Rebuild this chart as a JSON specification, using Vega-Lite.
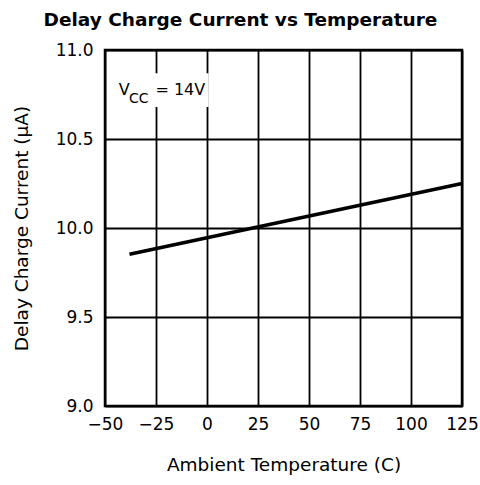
{
  "$schema": "https://vega.github.io/schema/vega-lite/v6.json",
  "autosize": "none",
  "width": 357,
  "height": 356,
  "padding": {"left": 105, "top": 50, "right": 18, "bottom": 79},
  "background": "white",
  "config": {
    "view": {"stroke": "black", "strokeWidth": 2.5},
    "font": "DejaVu Sans",
    "axis": {"labelFont": "DejaVu Sans", "titleFont": "DejaVu Sans", "labelColor": "black", "titleColor": "black", "titleFontWeight": "normal", "gridColor": "black", "gridOpacity": 1, "gridWidth": 1.8, "domain": false, "ticks": false, "labelOverlap": false, "labelFlush": false}
  },
  "title": {"text": "Delay Charge Current vs Temperature", "font": "DejaVu Sans", "fontSize": 18.5, "fontWeight": "bold", "color": "black", "anchor": "middle", "dx": -43, "offset": 12},
  "datasets": {
    "line": [{"t": -38, "i": 9.853}, {"t": 125, "i": 10.25}],
    "box": [{"t1": -46, "t2": 0.8, "i1": 10.68, "i2": 10.87}],
    "ann": [
      {"t": -43.2, "i": 10.747, "txt": "V", "part": "main"},
      {"t": -38.2, "i": 10.702, "txt": "CC", "part": "sub"},
      {"t": -25.3, "i": 10.747, "txt": "= 14V", "part": "main"}
    ]
  },
  "layer": [
    {
      "data": {"name": "line"},
      "mark": {"type": "line", "color": "black", "strokeWidth": 3.5},
      "encoding": {
        "x": {"field": "t", "type": "quantitative", "scale": {"domain": [-50, 125], "nice": false, "zero": false},
              "axis": {"values": [-50, -25, 0, 25, 50, 75, 100, 125], "title": "Ambient Temperature (C)", "labelFontSize": 17, "labelPadding": 10, "titleFontSize": 18.5, "titlePadding": 23}},
        "y": {"field": "i", "type": "quantitative", "scale": {"domain": [9, 11], "nice": false, "zero": false},
              "axis": {"values": [9, 9.5, 10, 10.5, 11], "format": ".1f", "title": "Delay Charge Current (μA)", "labelFontSize": 17, "labelPadding": 12, "titleFontSize": 18.5, "titlePadding": 24}}
      }
    },
    {
      "data": {"name": "box"},
      "mark": {"type": "rect", "fill": "white"},
      "encoding": {
        "x": {"field": "t1", "type": "quantitative"},
        "x2": {"field": "t2"},
        "y": {"field": "i1", "type": "quantitative"},
        "y2": {"field": "i2"}
      }
    },
    {
      "data": {"name": "ann"},
      "transform": [{"filter": "datum.part == 'main'"}],
      "mark": {"type": "text", "align": "left", "baseline": "alphabetic", "fontSize": 16, "font": "DejaVu Sans", "color": "black"},
      "encoding": {
        "x": {"field": "t", "type": "quantitative"},
        "y": {"field": "i", "type": "quantitative"},
        "text": {"field": "txt"}
      }
    },
    {
      "data": {"name": "ann"},
      "transform": [{"filter": "datum.part == 'sub'"}],
      "mark": {"type": "text", "align": "left", "baseline": "alphabetic", "fontSize": 14, "font": "DejaVu Sans", "color": "black"},
      "encoding": {
        "x": {"field": "t", "type": "quantitative"},
        "y": {"field": "i", "type": "quantitative"},
        "text": {"field": "txt"}
      }
    }
  ]
}
